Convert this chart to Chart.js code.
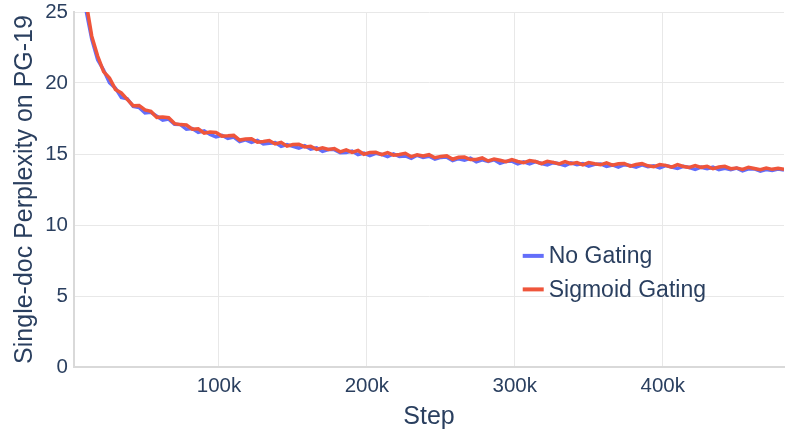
<!DOCTYPE html>
<html>
<head>
<meta charset="utf-8">
<script src="https://cdn.jsdelivr.net/npm/chart.js@4/dist/chart.umd.min.js"></script>
<style>
  html, body { margin: 0; padding: 0; background: #fff; }
  #wrap { width: 785px; height: 432px; position: relative; }
</style>
</head>
<body>
<div id="wrap"><canvas id="chart"></canvas></div>
<script>
// training step, in thousands
const steps = [
  2, 6, 10, 14, 18, 22, 26, 30, 34, 38,
  42, 46, 50, 54, 58, 62, 66, 70, 74, 78,
  82, 86, 90, 94, 98, 102, 106, 110, 114, 118,
  122, 126, 130, 134, 138, 142, 146, 150, 154, 158,
  162, 166, 170, 174, 178, 182, 186, 190, 194, 198,
  202, 206, 210, 214, 218, 222, 226, 230, 234, 238,
  242, 246, 250, 254, 258, 262, 266, 270, 274, 278,
  282, 286, 290, 294, 298, 302, 306, 310, 314, 318,
  322, 326, 330, 334, 338, 342, 346, 350, 354, 358,
  362, 366, 370, 374, 378, 382, 386, 390, 394, 398,
  402, 406, 410, 414, 418, 422, 426, 430, 434, 438,
  442, 446, 450, 454, 458, 462, 466, 470, 474, 478,
  482
];

const noGating = [
  38.4, 29.3, 25.2, 23.1, 21.64, 20.92, 20.02, 19.64, 18.99, 18.89,
  18.36, 18.28, 17.9, 17.94, 17.66, 17.39, 17.46, 17.1, 17.07, 16.74,
  16.79, 16.52, 16.63, 16.38, 16.2, 16.32, 16.1, 16.19, 15.88, 16.0,
  15.82, 15.96, 15.7, 15.75, 15.8, 15.54, 15.67, 15.54, 15.41, 15.58,
  15.35, 15.44, 15.18, 15.31, 15.31, 15.09, 15.11, 15.21, 14.95, 15.06,
  14.88, 15.05, 14.97, 14.82, 15.0, 14.82, 14.86, 14.7, 14.91, 14.76,
  14.84, 14.64, 14.76, 14.78, 14.54, 14.67, 14.57, 14.7, 14.45, 14.59,
  14.47, 14.59, 14.34, 14.48, 14.5, 14.31, 14.44, 14.3, 14.47, 14.33,
  14.23, 14.39, 14.31, 14.18, 14.37, 14.24, 14.32, 14.15, 14.27, 14.3,
  14.13, 14.23, 14.08, 14.25, 14.19, 14.07, 14.24, 14.1, 14.17, 14.02,
  14.18, 14.08, 13.98, 14.13, 14.05, 13.91, 14.07, 13.96, 14.07, 13.89,
  13.99, 13.9, 14.01, 13.82, 13.95, 13.96, 13.8, 13.91, 13.84, 13.94,
  13.88
];

const sigmoidGating = [
  39.0, 29.8, 25.8, 23.3, 21.9, 20.8, 20.35, 19.55, 19.3, 18.85,
  18.4, 18.42, 18.1, 18.0, 17.58, 17.6, 17.55, 17.14, 17.07, 17.04,
  16.74, 16.78, 16.47, 16.55, 16.52, 16.26, 16.28, 16.31, 15.98, 16.06,
  16.08, 15.83, 15.88, 15.95, 15.71, 15.82, 15.55, 15.67, 15.69, 15.5,
  15.55, 15.32, 15.43, 15.32, 15.39, 15.15, 15.29, 15.11, 15.25, 14.98,
  15.11, 15.13, 14.95, 15.1, 14.92, 14.96, 15.05, 14.81, 14.95, 14.86,
  14.95, 14.74, 14.83, 14.88, 14.63, 14.77, 14.78, 14.61, 14.61, 14.72,
  14.51, 14.65, 14.56, 14.46, 14.61, 14.47, 14.38, 14.54, 14.47, 14.32,
  14.48, 14.41, 14.3, 14.47, 14.32, 14.4, 14.23, 14.4, 14.31, 14.24,
  14.38, 14.21, 14.31, 14.33, 14.15, 14.26, 14.32, 14.17, 14.1, 14.26,
  14.2, 14.08, 14.25, 14.12, 14.05, 14.18, 14.06, 14.13, 13.96, 14.08,
  14.13, 13.97, 14.02, 13.91, 14.07, 13.98, 13.89, 14.01, 13.92, 13.99,
  13.93
];

const xTicks = [100, 200, 300, 400];

const textColor = "#2a3f5f";
const fontFamily = '"Liberation Sans", Arial, sans-serif';

// legend sits inside the plot area, like the original
const insideLegend = {
  id: "insideLegend",
  afterDraw(chart) {
    const { ctx, chartArea: a } = chart;
    const x0 = a.left + (a.right - a.left) * 0.632;
    let y = a.top + (a.bottom - a.top) * 0.687;
    ctx.save();
    ctx.font = "23px " + fontFamily;
    ctx.textBaseline = "middle";
    chart.data.datasets.forEach((ds) => {
      ctx.strokeStyle = ds.borderColor;
      ctx.lineWidth = 4;
      ctx.beginPath();
      ctx.moveTo(x0, y);
      ctx.lineTo(x0 + 21, y);
      ctx.stroke();
      ctx.fillStyle = textColor;
      ctx.fillText(ds.label, x0 + 26, y + 1);
      y += 33.5;
    });
    ctx.restore();
  },
};

const ctx = document.getElementById("chart").getContext("2d");
new Chart(ctx, {
  type: "line",
  data: {
    labels: steps,
    datasets: [
      {
        label: "No Gating",
        data: steps.map((s, i) => ({ x: s, y: noGating[i] })),
        borderColor: "#636efa",
        borderWidth: 3.5,
        pointRadius: 0,
        tension: 0,
        order: 2,
      },
      {
        label: "Sigmoid Gating",
        data: steps.map((s, i) => ({ x: s, y: sigmoidGating[i] })),
        borderColor: "#ef553b",
        borderWidth: 3.5,
        pointRadius: 0,
        tension: 0,
        order: 1,
      },
    ],
  },
  options: {
    responsive: true,
    maintainAspectRatio: false,
    animation: false,
    layout: { padding: { top: 12, right: 1, left: 0, bottom: 0 } },
    plugins: {
      legend: { display: false },
      tooltip: { enabled: false },
    },
    scales: {
      x: {
        type: "linear",
        min: 2,
        max: 482,
        afterBuildTicks: (scale) => {
          scale.ticks = xTicks.map((v) => ({ value: v }));
        },
        afterFit: (scale) => {
          scale.height = 65;
          scale.paddingLeft = 0;
          scale.paddingRight = 0;
        },
        ticks: {
          color: textColor,
          font: { family: fontFamily, size: 20.5 },
          padding: 7,
          maxRotation: 0,
          callback: (v) => v + "k",
        },
        grid: { color: "#e8e8e8", lineWidth: 1, drawTicks: false },
        border: { display: true, color: "#d9d9d9", width: 2 },
        title: {
          display: true,
          text: "Step",
          color: textColor,
          font: { family: fontFamily, size: 25, lineHeight: 1 },
          padding: { top: 0, bottom: 2 },
        },
      },
      y: {
        min: 0,
        max: 25,
        afterFit: (scale) => {
          scale.width = 74;
          scale.paddingTop = 0;
          scale.paddingBottom = 0;
        },
        ticks: {
          stepSize: 5,
          color: textColor,
          font: { family: fontFamily, size: 20.5 },
          padding: 6,
        },
        grid: { color: "#e8e8e8", lineWidth: 1, drawTicks: false },
        border: { display: true, color: "#d9d9d9", width: 2 },
        title: {
          display: true,
          text: "Single-doc Perplexity on PG-19",
          color: textColor,
          font: { family: fontFamily, size: 25, lineHeight: 1 },
          padding: { top: 13, bottom: 0 },
        },
      },
    },
  },
  plugins: [insideLegend],
});
</script>
</body>
</html>
